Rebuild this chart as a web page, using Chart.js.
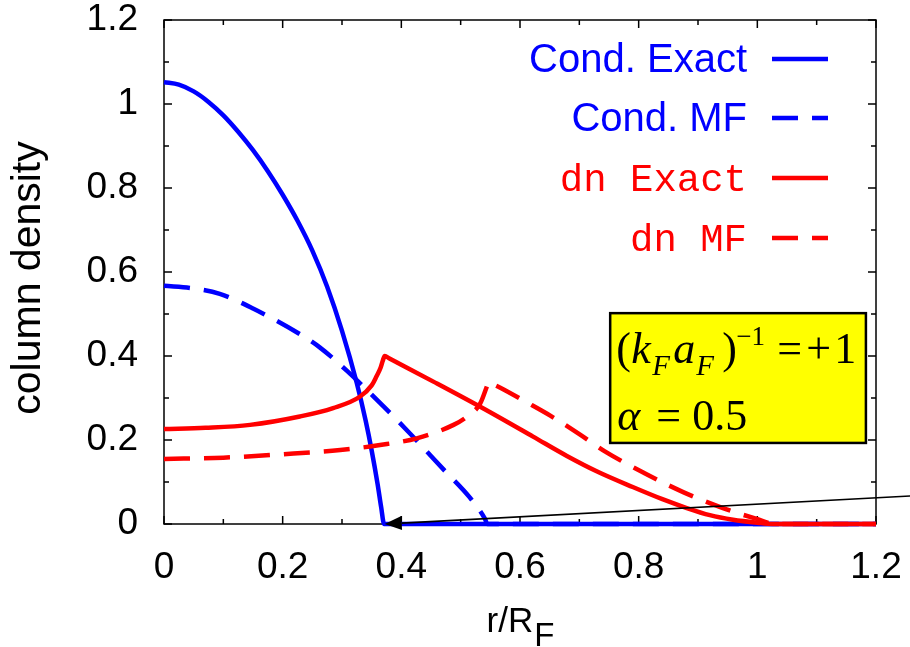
<!DOCTYPE html>
<html>
<head>
<meta charset="utf-8">
<style>
  body { margin: 0; background: #fff; }
  #wrap { width: 910px; height: 647px; }
</style>
</head>
<body>
<div id="wrap"><canvas id="densityChart" width="910" height="647"></canvas></div>

<script src="https://cdn.jsdelivr.net/npm/chart.js@4.4.1/dist/chart.umd.min.js"></script>
<script>
// values (x = r/R_F, y = column density)
var condExactX = [0, 0.025, 0.05, 0.075, 0.1, 0.125, 0.15, 0.175, 0.2, 0.225, 0.25, 0.275, 0.3, 0.325, 0.34, 0.35, 0.36, 0.366, 0.371, 1.2];
var condExactY = [1.052, 1.046, 1.030, 1.005, 0.973, 0.934, 0.890, 0.840, 0.784, 0.722, 0.651, 0.565, 0.460, 0.335, 0.245, 0.175, 0.095, 0.040, 0, 0];

var condMFX = [0, 0.049, 0.094, 0.150, 0.229, 0.263, 0.308, 0.370, 0.415, 0.471, 0.516, 0.541, 0.545, 1.2];
var condMFY = [0.567, 0.561, 0.548, 0.513, 0.452, 0.420, 0.365, 0.280, 0.215, 0.130, 0.062, 0.012, 0, 0];

var dnExactX = [0, 0.07, 0.145, 0.229, 0.285, 0.330, 0.350, 0.358, 0.365, 0.369, 0.372, 0.38, 0.454, 0.533, 0.622, 0.679, 0.73, 0.79, 0.84, 0.881, 0.92, 0.959, 1.0, 1.026, 1.2];
var dnExactY = [0.226, 0.229, 0.236, 0.256, 0.276, 0.303, 0.330, 0.351, 0.372, 0.390, 0.400, 0.394, 0.339, 0.279, 0.208, 0.162, 0.125, 0.088, 0.059, 0.038, 0.021, 0.010, 0.003, 0, 0];

var dnMFX = [0, 0.1, 0.2, 0.297, 0.364, 0.426, 0.488, 0.510, 0.533, 0.544, 0.547, 0.553, 0.566, 0.611, 0.651, 0.700, 0.743, 0.81, 0.875, 0.942, 0.999, 1.03, 1.2];
var dnMFY = [0.155, 0.158, 0.166, 0.176, 0.188, 0.204, 0.236, 0.255, 0.287, 0.327, 0.339, 0.334, 0.325, 0.290, 0.258, 0.214, 0.173, 0.121, 0.076, 0.038, 0.012, 0, 0];

var legendNames = ["Cond. Exact", "Cond. MF", "dn Exact", "dn MF"];

// arrow end points and the inset box, in data units
var arrowFrom = [1.26, 0.067];
var arrowTo = [0.372, 0];
var boxFrom = [0.752, 0.502];
var boxTo = [1.183, 0.193];

function pts(xs, ys) {
    var out = [];
    for (var i = 0; i < xs.length; i++) out.push({x: xs[i], y: ys[i]});
    return out;
}

function tickLabel(v) {
    var n = Math.round(v * 10);
    if (n % 2 !== 0) return "";
    return String(n / 10);
}

var SANS = "'Liberation Sans', Arial, sans-serif";
var MONO = "'Liberation Mono', 'Courier New', monospace";
var SERIF = "'Liberation Serif', 'Times New Roman', serif";
var dash = [26, 14];

// frame and inward ticks on all four sides, under the curves
var framePlugin = {
    id: 'frame',
    beforeDatasetsDraw: function(chart) {
        var ctx = chart.ctx, a = chart.chartArea;
        var xs = chart.scales.x, ys = chart.scales.y;
        ctx.save();
        ctx.strokeStyle = '#000';
        ctx.lineWidth = 1.5;
        ctx.strokeRect(a.left, a.top, a.right - a.left, a.bottom - a.top);
        ctx.beginPath();
        xs.ticks.forEach(function(t) {
            var p = xs.getPixelForValue(t.value);
            var len = Math.round(t.value * 10) % 2 === 0 ? 8 : 5;
            ctx.moveTo(p, a.bottom); ctx.lineTo(p, a.bottom - len);
            ctx.moveTo(p, a.top); ctx.lineTo(p, a.top + len);
        });
        ys.ticks.forEach(function(t) {
            var p = ys.getPixelForValue(t.value);
            var len = Math.round(t.value * 10) % 2 === 0 ? 8 : 5;
            ctx.moveTo(a.left, p); ctx.lineTo(a.left + len, p);
            ctx.moveTo(a.right, p); ctx.lineTo(a.right - len, p);
        });
        ctx.stroke();
        ctx.restore();
    }
};

// arrow, inset box, legend and axis titles
var notesPlugin = {
    id: 'notes',
    afterDatasetsDraw: function(chart) {
        var ctx = chart.ctx;
        var xs = chart.scales.x, ys = chart.scales.y;
        ctx.save();

        // arrow
        var x1 = xs.getPixelForValue(arrowFrom[0]), y1 = ys.getPixelForValue(arrowFrom[1]);
        var x2 = xs.getPixelForValue(arrowTo[0]), y2 = ys.getPixelForValue(arrowTo[1]);
        var ang = Math.atan2(y2 - y1, x2 - x1);
        var hl = 17, hw = 7;
        var bx = x2 - hl * Math.cos(ang), by = y2 - hl * Math.sin(ang);
        ctx.strokeStyle = '#000';
        ctx.lineWidth = 1.6;
        ctx.beginPath();
        ctx.moveTo(x1, y1);
        ctx.lineTo(bx, by);
        ctx.stroke();
        ctx.fillStyle = '#000';
        ctx.beginPath();
        ctx.moveTo(x2, y2);
        ctx.lineTo(bx + hw * Math.sin(ang), by - hw * Math.cos(ang));
        ctx.lineTo(bx - hw * Math.sin(ang), by + hw * Math.cos(ang));
        ctx.closePath();
        ctx.fill();

        // inset box
        var l = xs.getPixelForValue(boxFrom[0]), t = ys.getPixelForValue(boxFrom[1]);
        var r = xs.getPixelForValue(boxTo[0]), b = ys.getPixelForValue(boxTo[1]);
        ctx.fillStyle = '#ffff00';
        ctx.fillRect(l, t, r - l, b - t);
        ctx.lineWidth = 2.5;
        ctx.strokeRect(l, t, r - l, b - t);

        ctx.fillStyle = '#000';
        ctx.textAlign = 'left';
        ctx.textBaseline = 'alphabetic';
        var base1 = t + 50, base2 = t + 117;
        var line1 = [
            ["(", "44px " + SERIF, 6, 0],
            ["k", "italic 44px " + SERIF, 21, 0],
            ["F", "italic 29px " + SERIF, 42, 12],
            ["a", "italic 44px " + SERIF, 63, 0],
            ["F", "italic 29px " + SERIF, 86, 12],
            [")", "44px " + SERIF, 112, 0],
            ["\u22121", "27px " + SERIF, 126, -18],
            ["=", "44px " + SERIF, 167, 0],
            ["+", "44px " + SERIF, 196, 0],
            ["1", "44px " + SERIF, 224, 0]
        ];
        line1.forEach(function(p) {
            ctx.font = p[1];
            ctx.fillText(p[0], l + p[2], base1 + p[3]);
        });
        var line2 = [
            ["\u03b1", "italic 44px " + SERIF, 7, 0],
            ["=", "44px " + SERIF, 46, 0],
            ["0.5", "44px " + SERIF, 82, 0]
        ];
        line2.forEach(function(p) {
            ctx.font = p[1];
            ctx.fillText(p[0], l + p[2], base2 + p[3]);
        });

        ctx.restore();
    },
    afterDraw: function(chart) {
        var ctx = chart.ctx;
        ctx.save();

        // legend, text right aligned with the sample on its right
        var rows = [
            {color: '#0000ff', font: "40px " + SANS, dashed: false, y: 59},
            {color: '#0000ff', font: "40px " + SANS, dashed: true, y: 118},
            {color: '#ff0000', font: "39px " + MONO, dashed: false, y: 178},
            {color: '#ff0000', font: "39px " + MONO, dashed: true, y: 238}
        ];
        rows.forEach(function(row, i) {
            ctx.fillStyle = row.color;
            ctx.font = row.font;
            ctx.textAlign = 'right';
            ctx.textBaseline = 'alphabetic';
            ctx.fillText(legendNames[i], 747, row.y + 13);
            ctx.strokeStyle = row.color;
            ctx.lineWidth = 4.5;
            ctx.lineCap = 'butt';
            ctx.setLineDash(row.dashed ? dash : []);
            ctx.beginPath();
            ctx.moveTo(772, row.y);
            ctx.lineTo(828, row.y);
            ctx.stroke();
        });
        ctx.setLineDash([]);

        // axis titles
        ctx.fillStyle = '#000';
        ctx.save();
        ctx.translate(40, 278);
        ctx.rotate(-Math.PI / 2);
        ctx.font = "41px " + SANS;
        ctx.textAlign = 'center';
        ctx.fillText("column density", 0, 0);
        ctx.restore();

        ctx.font = "35px " + SANS;
        var w1 = ctx.measureText("r/R").width;
        ctx.font = "33px " + SANS;
        var w2 = ctx.measureText("F").width;
        var x0 = 520 - (w1 + w2) / 2;
        ctx.textAlign = 'left';
        ctx.font = "35px " + SANS;
        ctx.fillText("r/R", x0, 632);
        ctx.font = "33px " + SANS;
        ctx.fillText("F", x0 + w1 + 1, 646);

        ctx.restore();
    }
};

Chart.defaults.font.family = SANS;
Chart.defaults.color = '#000';

new Chart(document.getElementById('densityChart').getContext('2d'), {
    type: 'scatter',
    data: {
        datasets: [{
            label: legendNames[0],
            data: pts(condExactX, condExactY),
            borderColor: '#0000ff',
            order: 4
        }, {
            label: legendNames[1],
            data: pts(condMFX, condMFY),
            borderColor: '#0000ff',
            borderDash: dash,
            order: 3
        }, {
            label: legendNames[2],
            data: pts(dnExactX, dnExactY),
            borderColor: '#ff0000',
            order: 2
        }, {
            label: legendNames[3],
            data: pts(dnMFX, dnMFY),
            borderColor: '#ff0000',
            borderDash: dash,
            order: 1
        }]
    },
    options: {
        responsive: false,
        animation: false,
        showLine: true,
        clip: 6,
        elements: {
            point: { radius: 0, hoverRadius: 0 },
            line: { borderWidth: 4.5, fill: false, cubicInterpolationMode: 'monotone', borderCapStyle: 'butt' }
        },
        layout: { padding: { top: 20, right: 34, left: 0, bottom: 0 } },
        plugins: {
            legend: { display: false },
            tooltip: { enabled: false }
        },
        scales: {
            x: {
                type: 'linear',
                min: 0,
                max: 1.2,
                grid: { display: false, drawTicks: false },
                border: { display: false },
                ticks: {
                    stepSize: 0.1,
                    autoSkip: false,
                    maxRotation: 0,
                    padding: 22,
                    font: { size: 37 },
                    callback: tickLabel
                },
                afterFit: function(scale) {
                    scale.height = 123;
                    scale.paddingLeft = 0;
                    scale.paddingRight = 0;
                }
            },
            y: {
                type: 'linear',
                min: 0,
                max: 1.2,
                grid: { display: false, drawTicks: false },
                border: { display: false },
                ticks: {
                    stepSize: 0.1,
                    autoSkip: false,
                    padding: 26,
                    font: { size: 37 },
                    callback: tickLabel
                },
                afterFit: function(scale) {
                    scale.width = 164;
                    scale.paddingTop = 0;
                    scale.paddingBottom = 0;
                }
            }
        }
    },
    plugins: [framePlugin, notesPlugin]
});
</script>
</body>
</html>
